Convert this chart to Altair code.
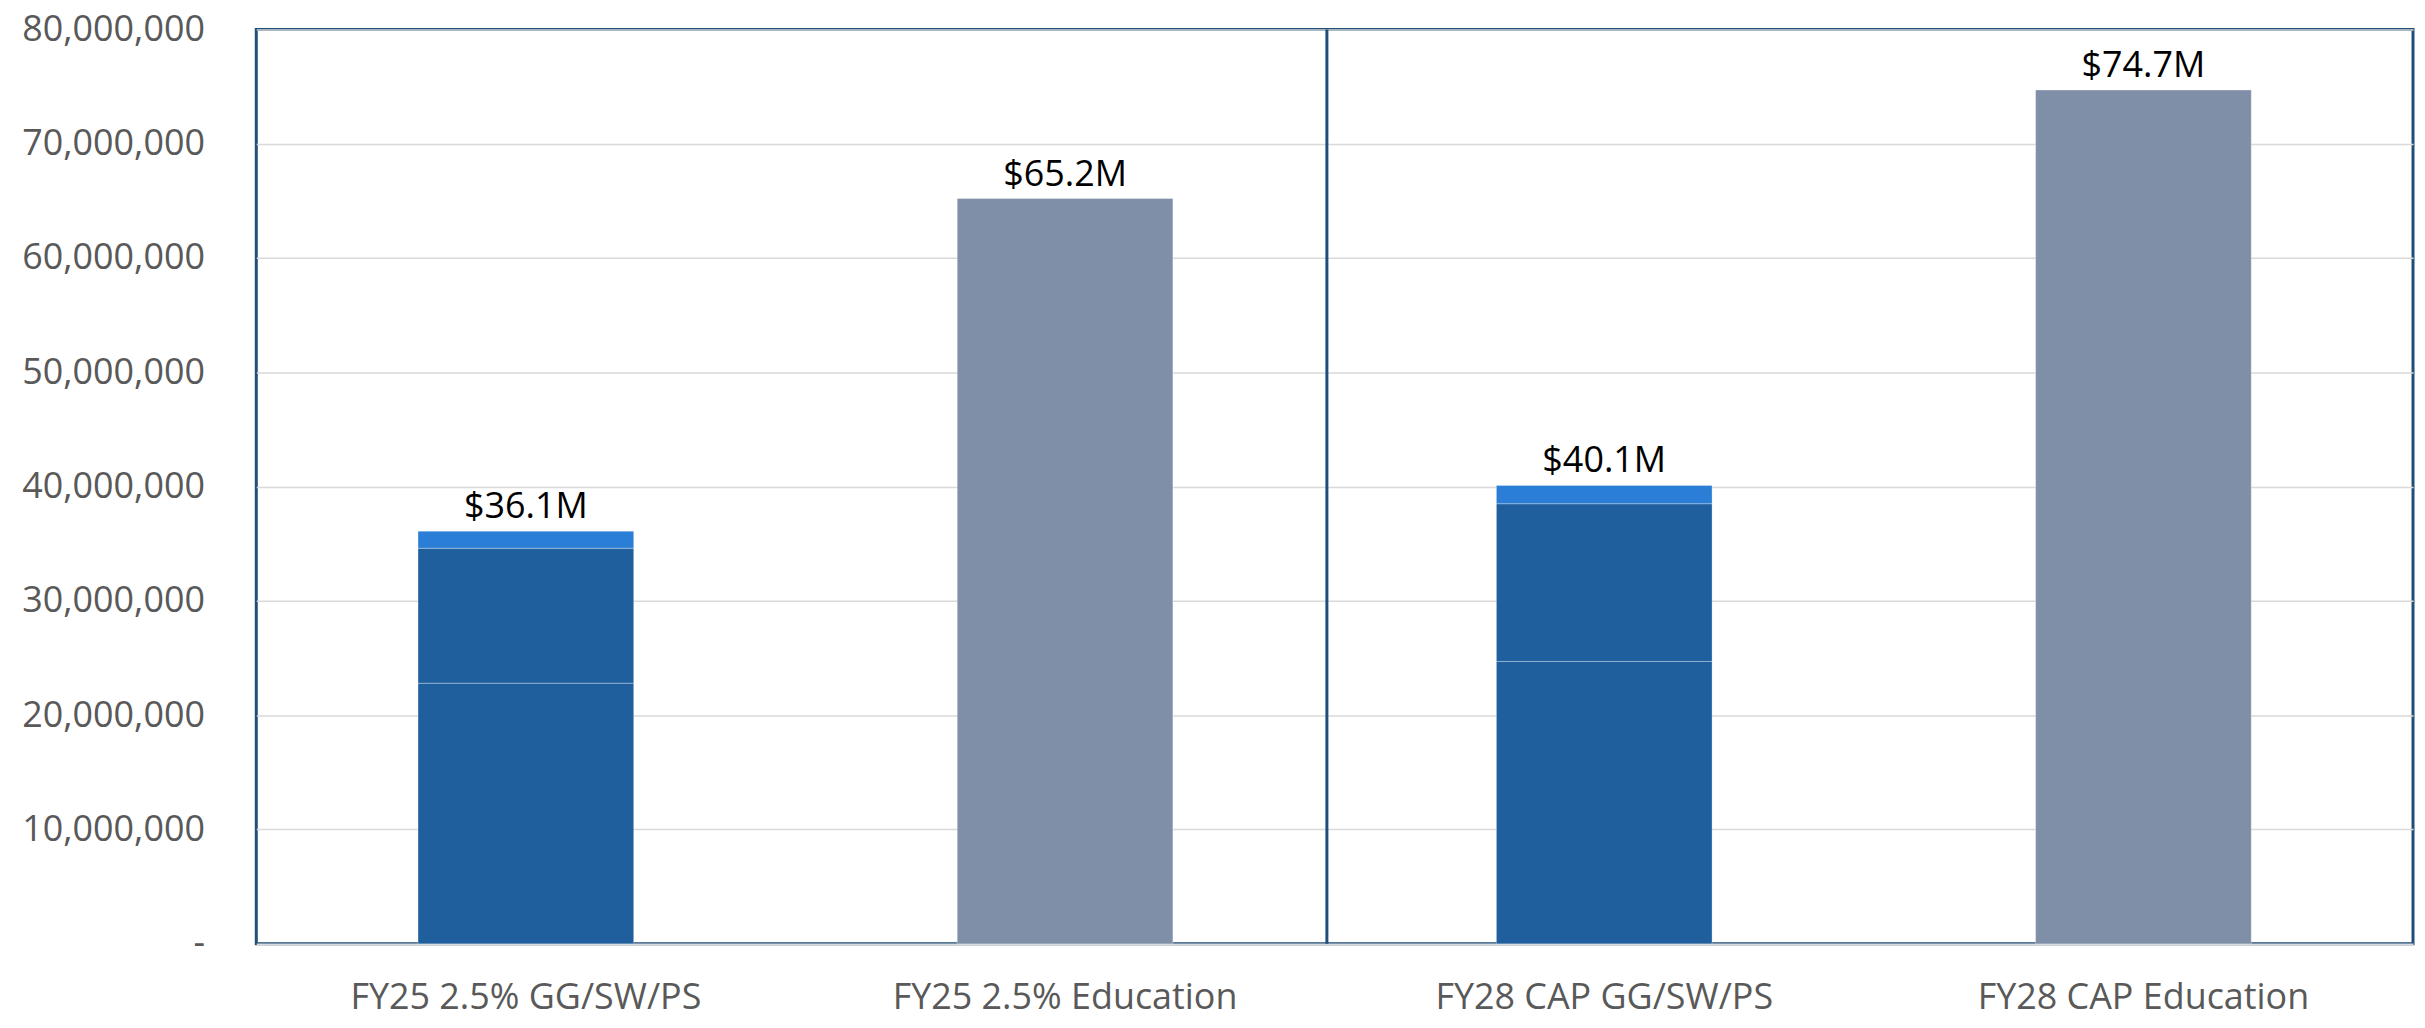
import altair as alt
import pandas as pd

categories = ["FY25 2.5% GG/SW/PS", "FY25 2.5% Education", "FY28 CAP GG/SW/PS", "FY28 CAP Education"]
segments = ["Base", "Adjustment", "Increase", "Education"]

# stacked segment values (dollars)
seg_category = ["FY25 2.5% GG/SW/PS", "FY25 2.5% GG/SW/PS", "FY25 2.5% GG/SW/PS",
                "FY25 2.5% Education",
                "FY28 CAP GG/SW/PS", "FY28 CAP GG/SW/PS", "FY28 CAP GG/SW/PS",
                "FY28 CAP Education"]
seg_name = ["Base", "Adjustment", "Increase",
            "Education",
            "Base", "Adjustment", "Increase",
            "Education"]
seg_order = [1, 2, 3, 1, 1, 2, 3, 1]
seg_value = [22_800_000, 11_800_000, 1_500_000,
             65_200_000,
             24_700_000, 13_800_000, 1_600_000,
             74_700_000]

totals = [36_100_000, 65_200_000, 40_100_000, 74_700_000]
total_labels = ["$36.1M", "$65.2M", "$40.1M", "$74.7M"]

y_ticks = [0, 10_000_000, 20_000_000, 30_000_000, 40_000_000,
           50_000_000, 60_000_000, 70_000_000, 80_000_000]

seg_colors = ["#1F5F9E", "#1F5F9E", "#2A7ED5", "#808FA8"]

df = pd.DataFrame({"category": seg_category, "segment": seg_name,
                   "order": seg_order, "value": seg_value})
tot = pd.DataFrame({"category": categories, "total": totals, "label": total_labels})

FONT = "Open Sans"

x_enc = alt.X("category:N", sort=categories, title=None,
              scale=alt.Scale(paddingInner=0.6, paddingOuter=0.3),
              axis=alt.Axis(labelAngle=0, labelFontSize=36, labelColor="#595959",
                            labelFont=FONT, ticks=False, tickSize=0, domain=False,
                            labelPadding=37, grid=False, labelLimit=1000))
y_scale = alt.Scale(domain=[0, 80_000_000], nice=False)

bars = alt.Chart(df).mark_bar(stroke="#FFFFFF", strokeOpacity=0.3, strokeWidth=1).encode(
    x=x_enc,
    y=alt.Y("value:Q", stack="zero", scale=y_scale, title=None,
            axis=alt.Axis(values=y_ticks, labelExpr="datum.value == 0 ? '-' : format(datum.value, ',')",
                          labelFontSize=36, labelColor="#595959", labelFont=FONT,
                          ticks=False, tickSize=0, domain=False, labelPadding=52,
                          labelLimit=1000,
                          grid=True, gridColor="#D9D9D9", gridWidth=1.5)),
    color=alt.Color("segment:N", scale=alt.Scale(domain=segments, range=seg_colors), legend=None),
    order=alt.Order("order:Q"),
)

labels = alt.Chart(tot).mark_text(fontSize=36, font=FONT, color="#000000",
                                  baseline="bottom", dy=-5).encode(
    x=alt.X("category:N", sort=categories),
    y=alt.Y("total:Q", scale=y_scale),
    text="label:N",
)

divider = alt.Chart(pd.DataFrame({"category": [categories[2]]})).mark_rule(
    color="#1F4E79", strokeWidth=3, xOffset=-170).encode(
    x=alt.X("category:N", sort=categories, bandPosition=0),
)

chart = alt.layer(bars, labels, divider).properties(
    width=2163, height=917,
    autosize=alt.AutoSizeParams(type="none"),
    padding={"left": 249, "top": 20, "right": 4, "bottom": 74},
).configure(
    background="white"
).configure_view(
    stroke="#1F4E79", strokeWidth=3
)

chart.save("out.html", embed_options={"renderer": "svg", "actions": False})
